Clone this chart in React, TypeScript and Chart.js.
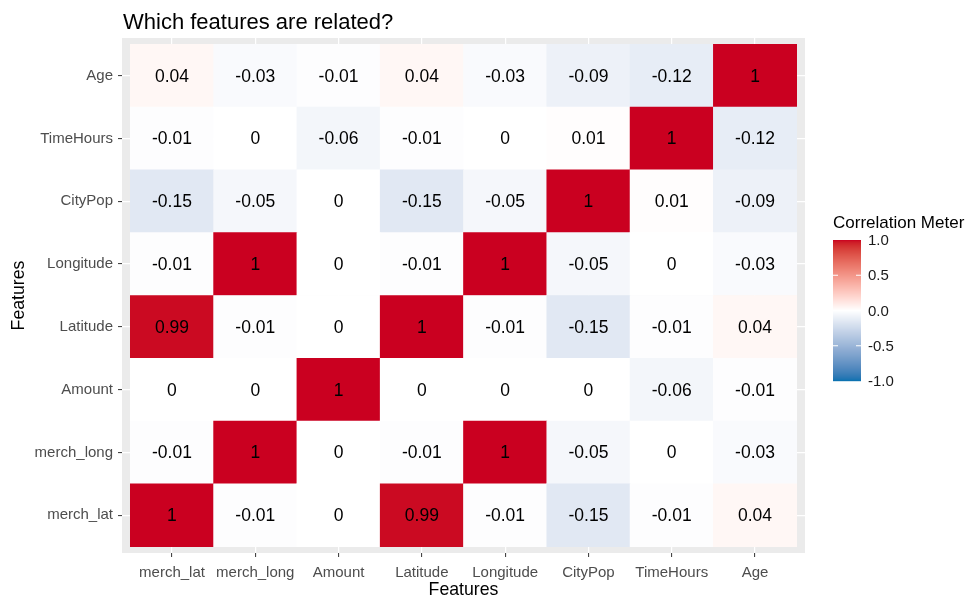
import React, { useEffect, useRef } from "react";
import { Chart, registerables } from "chart.js";
Chart.register(...registerables);

// ---- data ----
const features = ["merch_lat", "merch_long", "Amount", "Latitude", "Longitude", "CityPop", "TimeHours", "Age"];
// each row: correlation of that feature (y) with columns in `features` order (x)
const merchLat = [1, -0.01, 0, 0.99, -0.01, -0.15, -0.01, 0.04];
const merchLong = [-0.01, 1, 0, -0.01, 1, -0.05, 0, -0.03];
const amount = [0, 0, 1, 0, 0, 0, -0.06, -0.01];
const latitude = [0.99, -0.01, 0, 1, -0.01, -0.15, -0.01, 0.04];
const longitude = [-0.01, 1, 0, -0.01, 1, -0.05, 0, -0.03];
const cityPop = [-0.15, -0.05, 0, -0.15, -0.05, 1, 0.01, -0.09];
const timeHours = [-0.01, 0, -0.06, -0.01, 0, 0.01, 1, -0.12];
const age = [0.04, -0.03, -0.01, 0.04, -0.03, -0.09, -0.12, 1];
const rows = [merchLat, merchLong, amount, latitude, longitude, cityPop, timeHours, age];
const legendTickValues = [1, 0.5, 0, -0.5, -1];
const legendTickLabels = ["1.0", "0.5", "0.0", "-0.5", "-1.0"];

const TITLE = "Which features are related?";
const AXIS_TITLE = "Features";
const LEGEND_TITLE = "Correlation Meter";

const LOW = "#0571B0";
const MID = "#FFFFFF";
const HIGH = "#CA0020";
const FONT = "'Liberation Sans', Arial, sans-serif";

// ---- Lab colour interpolation (like scales::div_gradient_pal) ----
function hexToRgb(h: string) {
  const n = parseInt(h.slice(1), 16);
  return [(n >> 16) & 255, (n >> 8) & 255, n & 255];
}
function srgbToLin(c: number) {
  c /= 255;
  return c <= 0.04045 ? c / 12.92 : Math.pow((c + 0.055) / 1.055, 2.4);
}
function linToSrgb(c: number) {
  const v = c <= 0.0031308 ? 12.92 * c : 1.055 * Math.pow(c, 1 / 2.4) - 0.055;
  return Math.max(0, Math.min(255, Math.round(v * 255)));
}
const Xn = 0.95047, Yn = 1.0, Zn = 1.08883;
function f(t: number) {
  return t > 216 / 24389 ? Math.cbrt(t) : (24389 / 27 * t + 16) / 116;
}
function finv(t: number) {
  const t3 = t * t * t;
  return t3 > 216 / 24389 ? t3 : (116 * t - 16) / (24389 / 27);
}
function rgbToLab(rgb: number[]) {
  const [r, g, b] = rgb.map(srgbToLin);
  const x = (0.4124 * r + 0.3576 * g + 0.1805 * b) / Xn;
  const y = (0.2126 * r + 0.7152 * g + 0.0722 * b) / Yn;
  const z = (0.0193 * r + 0.1192 * g + 0.9505 * b) / Zn;
  const fx = f(x), fy = f(y), fz = f(z);
  return [116 * fy - 16, 500 * (fx - fy), 200 * (fy - fz)];
}
function labToRgb(lab: number[]) {
  const [L, a, bb] = lab;
  const fy = (L + 16) / 116;
  const fx = fy + a / 500;
  const fz = fy - bb / 200;
  const x = finv(fx) * Xn, y = finv(fy) * Yn, z = finv(fz) * Zn;
  const r = 3.2406 * x - 1.5372 * y - 0.4986 * z;
  const g = -0.9689 * x + 1.8758 * y + 0.0415 * z;
  const b = 0.0557 * x - 0.204 * y + 1.057 * z;
  return [linToSrgb(r), linToSrgb(g), linToSrgb(b)];
}
const labLow = rgbToLab(hexToRgb(LOW));
const labMid = rgbToLab(hexToRgb(MID));
const labHigh = rgbToLab(hexToRgb(HIGH));
function colorFor(v: number) {
  const t = Math.max(-1, Math.min(1, v));
  const end = t >= 0 ? labHigh : labLow;
  const k = Math.abs(t);
  const lab = labMid.map((m, i) => m + (end[i] - m) * k);
  const [r, g, b] = labToRgb(lab);
  return `rgb(${r},${g},${b})`;
}

// ---- plugins ----
const panelPlugin = {
  id: "panelBg",
  beforeDraw(chart: any) {
    const { ctx, chartArea: a } = chart;
    ctx.save();
    ctx.fillStyle = "#EBEBEB";
    ctx.fillRect(a.left, a.top, a.right - a.left, a.bottom - a.top);
    ctx.restore();
  },
};

const labelPlugin = {
  id: "cellLabels",
  afterDatasetsDraw(chart: any) {
    const { ctx } = chart;
    ctx.save();
    ctx.fillStyle = "#000000";
    ctx.font = `17.5px ${FONT}`;
    ctx.textAlign = "center";
    ctx.textBaseline = "middle";
    chart.data.datasets.forEach((ds: any, di: number) => {
      const meta = chart.getDatasetMeta(di);
      meta.data.forEach((el: any, j: number) => {
        const p = el.getCenterPoint();
        ctx.fillText(String(ds.values[j]), p.x, p.y + 1);
      });
    });
    ctx.restore();
  },
};

const decorPlugin = {
  id: "decor",
  afterDraw(chart: any) {
    const { ctx, chartArea: a } = chart;
    ctx.save();
    // title
    ctx.fillStyle = "#000000";
    ctx.font = `22px ${FONT}`;
    ctx.textAlign = "left";
    ctx.textBaseline = "alphabetic";
    ctx.fillText(TITLE, a.left + 1, 28.5);

    // legend
    const lx = a.right + 28;
    const barTop = 240;
    const barH = 141;
    const barW = 28;
    ctx.font = `17px ${FONT}`;
    ctx.textBaseline = "middle";
    ctx.fillStyle = "#000000";
    ctx.fillText(LEGEND_TITLE, lx, 223);
    for (let i = 0; i < barH; i++) {
      const v = 1 - (2 * (i + 0.5)) / barH;
      ctx.fillStyle = colorFor(v);
      ctx.fillRect(lx, barTop + i, barW, 1.2);
    }
    ctx.font = `15px ${FONT}`;
    legendTickValues.forEach((v, i) => {
      const y = barTop + ((1 - v) / 2) * barH;
      if (Math.abs(v) < 1) {
        ctx.strokeStyle = "#FFFFFF";
        ctx.lineWidth = 1;
        ctx.beginPath();
        ctx.moveTo(lx, y);
        ctx.lineTo(lx + 5, y);
        ctx.moveTo(lx + barW - 5, y);
        ctx.lineTo(lx + barW, y);
        ctx.stroke();
      }
      ctx.fillStyle = "#1A1A1A";
      ctx.fillText(legendTickLabels[i], lx + barW + 7, y + 1);
    });
    ctx.restore();
  },
};

export default function App() {
  const ref = useRef<HTMLCanvasElement | null>(null);

  useEffect(() => {
    if (!ref.current) return;
    const datasets = rows.map((vals, i) => ({
      label: features[i],
      values: vals,
      data: vals.map((_, j) => ({ x: j, y: [i - 0.5, i + 0.5] })),
      backgroundColor: vals.map((v) => colorFor(v)),
      borderWidth: 0,
      grouped: false,
      barPercentage: 1,
      categoryPercentage: 1,
    }));

    const tickFont = { family: FONT, size: 15 };
    const titleFont = { family: FONT, size: 17.7 };
    const gridOpts = {
      color: "#FFFFFF",
      lineWidth: 1.2,
      offset: false,
      drawTicks: true,
      tickLength: 4,
      tickColor: "#333333",
      tickWidth: 1,
    };

    const chart = new Chart(ref.current, {
      type: "bar",
      data: { datasets: datasets as any },
      options: {
        animation: false,
        responsive: false,
        devicePixelRatio: 1,
        layout: { padding: { left: 4, top: 38, right: 166, bottom: 0 } },
        plugins: {
          legend: { display: false },
          tooltip: { enabled: false },
          title: { display: false },
        },
        scales: {
          x: {
            type: "linear",
            offset: false,
            min: -0.6,
            max: 7.6,
            afterBuildTicks: (s: any) => {
              s.ticks = features.map((_, i) => ({ value: i }));
            },
            afterFit: (s: any) => {
              s.height = 52;
            },
            ticks: {
              callback: (v: any) => features[v],
              color: "#4D4D4D",
              font: tickFont,
              padding: 7,
              maxRotation: 0,
              autoSkip: false,
            },
            grid: gridOpts,
            border: { display: false },
            title: { display: true, text: AXIS_TITLE, color: "#000000", font: titleFont },
          },
          y: {
            type: "linear",
            offset: false,
            min: -0.6,
            max: 7.6,
            afterBuildTicks: (s: any) => {
              s.ticks = features.map((_, i) => ({ value: i }));
            },
            afterFit: (s: any) => {
              s.width = 118;
            },
            ticks: {
              callback: (v: any) => features[v],
              color: "#4D4D4D",
              font: tickFont,
              padding: 5,
              autoSkip: false,
            },
            grid: gridOpts,
            border: { display: false },
            title: { display: true, text: AXIS_TITLE, color: "#000000", font: titleFont },
          },
        },
      },
      plugins: [panelPlugin, labelPlugin, decorPlugin],
    });
    return () => chart.destroy();
  }, []);

  return (
    <div style={{ position: "absolute", left: 0, top: 0, width: 971, height: 605, background: "#FFFFFF" }}>
      <canvas ref={ref} width={971} height={605} style={{ display: "block" }} />
    </div>
  );
}
